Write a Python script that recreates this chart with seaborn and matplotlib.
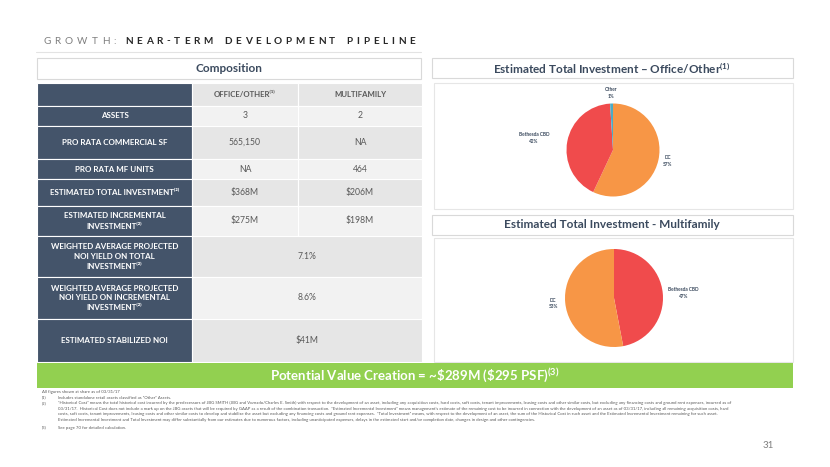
import numpy as np
import matplotlib
matplotlib.use("Agg")
import matplotlib.pyplot as plt
from matplotlib.patches import Rectangle
import seaborn as sns

# ---- data ----
office_regions = ["DC", "Bethesda CBD", "Other"]
office_share = [57, 42, 1]
mf_regions = ["Bethesda CBD", "DC"]
mf_share = [47, 53]

col_headers = ["OFFICE/OTHER\u207d\u00b9\u207e", "MULTIFAMILY"]
row_labels = [
    "ASSETS",
    "PRO RATA COMMERCIAL SF",
    "PRO RATA MF UNITS",
    "ESTIMATED TOTAL INVESTMENT\u207d\u00b2\u207e",
    "ESTIMATED INCREMENTAL\nINVESTMENT\u207d\u00b2\u207e",
    "WEIGHTED AVERAGE PROJECTED\nNOI YIELD ON TOTAL\nINVESTMENT\u207d\u00b2\u207e",
    "WEIGHTED AVERAGE PROJECTED\nNOI YIELD ON INCREMENTAL\nINVESTMENT\u207d\u00b2\u207e",
    "ESTIMATED STABILIZED NOI",
]
office_vals = ["3", "565,150", "NA", "$368M", "$275M"]
mf_vals = ["2", "NA", "464", "$206M", "$198M"]
combined_vals = ["7.1%", "8.6%", "$41M"]

value_creation = r"Potential Value Creation = ~\$289M (\$295 PSF)$^{\mathbf{(3)}}$"

footnotes = [
    ("", "All figures shown at share as of 03/31/17"),
    ("(1)", "Includes standalone retail assets classified as \u201cOther\u201d Assets."),
    ("(2)", "\u201cHistorical Cost\u201d means the total historical cost incurred by the predecessors of JBG SMITH (JBG and Vornado/Charles E. Smith) with respect to the development of an asset, including any acquisition costs, hard costs, soft costs, tenant improvements, leasing costs and other similar costs, but excluding any financing costs and ground rent expenses, incurred as of"),
    ("", "03/31/17.  Historical Cost does not include a mark up on the JBG assets that will be required by GAAP as a result of the combination transaction.  \u201cEstimated Incremental Investment\u201d means management\u2019s estimate of the remaining cost to be incurred in connection with the development of an asset as of 03/31/17, including all remaining acquisition costs, hard"),
    ("", "costs, soft costs, tenant improvements, leasing costs and other similar costs to develop and stabilize the asset but excluding any financing costs and ground rent expenses.  \u201cTotal Investment\u201d means, with respect to the development of an asset, the sum of the Historical Cost in such asset and the Estimated Incremental Investment remaining for such asset."),
    ("", "Estimated Incremental Investment and Total Investment may differ substantially from our estimates due to numerous factors, including unanticipated expenses, delays in the estimated start and/or completion date, changes in design and other contingencies."),
    ("(3)", "See page 70 for detailed calculation."),
]

# ---- style ----
sns.set_theme(style="white")
plt.rcParams["font.family"] = ["Lato", "DejaVu Sans"]
plt.rcParams["mathtext.fontset"] = "custom"
plt.rcParams["mathtext.rm"] = "Lato"
plt.rcParams["mathtext.bf"] = "Lato:bold"
plt.rcParams["mathtext.it"] = "Lato:italic"
plt.rcParams["mathtext.default"] = "regular"

region_colors = dict(zip(["DC", "Bethesda CBD", "Other"],
                         sns.color_palette(["#f79646", "#f04b4c", "#4bacc6"])))
slate = "#44546a"
title_col = "#3b4a5e"
grey_txt = "#595959"
green = "#92d050"
border = "#d9d9d9"

W, H = 830, 467
fig = plt.figure(figsize=(W / 100, H / 100), dpi=100)
bg = fig.add_axes([0, 0, 1, 1])
bg.set_xlim(0, W)
bg.set_ylim(H, 0)
bg.axis("off")
renderer = fig.canvas.get_renderer()


def px_axes(left, top, w, h):
    return fig.add_axes([left / W, 1 - (top + h) / H, w / W, h / H])


def box(x0, y0, x1, y1, fc="white", ec=border, lw=0.8):
    bg.add_patch(Rectangle((x0, y0), x1 - x0, y1 - y0, fc=fc, ec=ec, lw=lw))


def spaced_text(text, x0, x1, y, space_w=4, **kw):
    # letter-spaced text stretched between x0 and x1
    arts = [bg.text(0, y, ch, ha="left", va="center", **kw) for ch in text]
    widths = [space_w if ch == " " else a.get_window_extent(renderer).width
              for a, ch in zip(arts, text)]
    gap = (x1 - x0 - sum(widths)) / (len(text) - 1)
    x = x0
    for a, w in zip(arts, widths):
        a.set_x(x)
        x += w + gap


# ---- slide title ----
spaced_text("GROWTH:", 43, 116, 41, fontsize=7.2, color="#7f7f7f")
spaced_text("NEAR-TERM DEVELOPMENT PIPELINE", 125, 415, 41, fontsize=7.2,
            color="#262626", fontweight="bold")
bg.plot([36, 421], [52, 52], color="#e3e3e3", lw=0.8)

# ---- composition table ----
box(37, 58, 421, 79)
bg.text(229, 68.5, "Composition", ha="center", va="center", fontsize=8.5,
        fontweight="bold", color=title_col)

col_edges = [37, 192, 298, 422]
row_edges = [83, 106, 126, 159, 179, 206, 236, 277, 319, 362]
shades = ["#e6e6e6", "#f2f2f2"]

for i in range(len(row_edges) - 1):
    y0, y1 = row_edges[i], row_edges[i + 1]
    ym = (y0 + y1) / 2
    fill = shades[i % 2]
    bg.add_patch(Rectangle((col_edges[0], y0), col_edges[1] - col_edges[0], y1 - y0,
                           fc=slate, ec="white", lw=0.8))
    if i == 0 or i <= len(office_vals):
        for j in (1, 2):
            bg.add_patch(Rectangle((col_edges[j], y0), col_edges[j + 1] - col_edges[j],
                                   y1 - y0, fc=fill, ec="white", lw=0.8))
    else:
        bg.add_patch(Rectangle((col_edges[1], y0), col_edges[3] - col_edges[1],
                               y1 - y0, fc=fill, ec="white", lw=0.8))
    if i == 0:
        for j, h in enumerate(col_headers):
            bg.text((col_edges[j + 1] + col_edges[j + 2]) / 2, ym, h, ha="center",
                    va="center", fontsize=5.6, fontweight="bold", color=grey_txt)
        continue
    bg.text((col_edges[0] + col_edges[1]) / 2, ym, row_labels[i - 1], ha="center",
            va="center", fontsize=5.8, fontweight="bold", color="white",
            linespacing=1.45, multialignment="center")
    k = i - 1
    if k < len(office_vals):
        bg.text((col_edges[1] + col_edges[2]) / 2, ym, office_vals[k], ha="center",
                va="center", fontsize=6.2, color=grey_txt)
        bg.text((col_edges[2] + col_edges[3]) / 2, ym, mf_vals[k], ha="center",
                va="center", fontsize=6.2, color=grey_txt)
    else:
        bg.text((col_edges[1] + col_edges[3]) / 2, ym, combined_vals[k - len(office_vals)],
                ha="center", va="center", fontsize=6.2, color=grey_txt)

# ---- pie panels ----
box(432, 58, 793, 78)
bg.text(612, 68, "Estimated Total Investment \u2013 Office/Other$^{(1)}$", ha="center",
        va="center", fontsize=8.5, fontweight="bold", color=title_col)
box(434, 83, 793, 209, ec="#e6e6e6")

box(432, 215, 793, 235)
bg.text(612, 225, "Estimated Total Investment - Multifamily", ha="center",
        va="center", fontsize=8.5, fontweight="bold", color=title_col)
box(434, 238, 793, 362, ec="#e6e6e6")


def draw_pie(cx, cy, r, regions, shares, dists):
    side = 2.5 * r
    ax = px_axes(cx - side / 2, cy - side / 2, side, side)
    wedges, _ = ax.pie(shares, colors=[region_colors[g] for g in regions],
                       startangle=90, counterclock=False,
                       wedgeprops=dict(linewidth=0))
    ax.set_xlim(-1.25, 1.25)
    ax.set_ylim(-1.25, 1.25)
    ax.set_aspect("equal")
    ax.axis("off")
    for w, name, val, d in zip(wedges, regions, shares, dists):
        ang = np.deg2rad((w.theta1 + w.theta2) / 2)
        tx, ty = d * np.cos(ang), d * np.sin(ang)
        ha = "center" if abs(tx) < 0.2 else ("left" if tx > 0 else "right")
        ax.text(tx, ty, f"{name}\n{val}%", ha=ha, va="center",
                multialignment="center", fontsize=3.4, fontweight="bold",
                color=title_col, linespacing=1.4)


draw_pie(613, 150, 46.5, office_regions, office_share, [1.10, 1.40, 1.23])
draw_pie(614, 298, 49, mf_regions, mf_share, [1.11, 1.15])

# ---- value creation banner ----
bg.add_patch(Rectangle((37, 363), 793 - 37, 25, fc=green, ec="none"))
bg.text(415, 375.5, value_creation, ha="center", va="center", fontsize=9.5,
        fontweight="bold", color="white")

# ---- footnotes ----
foot_y = [392.3, 397.7, 403.3, 408.7, 414.3, 420, 427.8]
for (num, txt), y in zip(footnotes, foot_y):
    if num:
        bg.text(42, y, num, ha="left", va="center", fontsize=3.05, color=grey_txt)
    bg.text(58 if (num or y > 400) else 42, y, txt, ha="left", va="center",
            fontsize=3.05, color=grey_txt)

bg.text(768, 446, "31", ha="center", va="center", fontsize=7, color="#7f7f7f")

fig.savefig("out.png", dpi=100, facecolor="white")
